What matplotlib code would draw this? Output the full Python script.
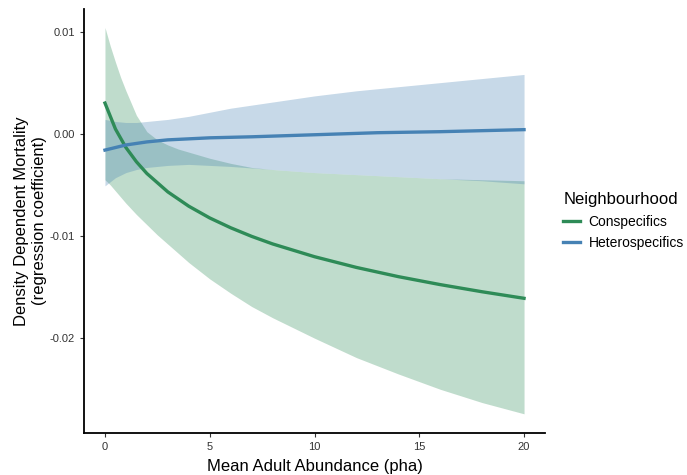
import numpy as np
import matplotlib.pyplot as plt

plt.rcParams['font.family'] = ['Liberation Sans', 'DejaVu Sans']
plt.rcParams['axes.unicode_minus'] = False

# conspecific fit and 95% band
con_x = [0, 0.5, 1, 1.5, 2, 3, 4, 5, 6, 7, 8, 10, 12, 14, 16, 18, 20]
con_y = [0.0030, 0.00046, -0.00135, -0.00274, -0.00389, -0.00569, -0.00709, -0.00824,
         -0.0092, -0.01004, -0.01078, -0.01203, -0.01308, -0.01398, -0.01476, -0.01546, -0.0161]

con_band_x = [0, 0.25, 0.5, 0.75, 1, 1.5, 2, 2.5, 3, 3.5, 4, 5, 6, 7, 8, 10, 12, 14, 16, 18, 20]
con_lo = [-0.0045, -0.0050, -0.0056, -0.0062, -0.0068, -0.0079, -0.0089, -0.0099, -0.0108,
          -0.0117, -0.0126, -0.0142, -0.0156, -0.0169, -0.0180, -0.0200, -0.0219, -0.0235,
          -0.0250, -0.0263, -0.0274]
con_hi = [0.0104, 0.0086, 0.0070, 0.0055, 0.0042, 0.0018, 0.0002, -0.0006, -0.0011,
          -0.0015, -0.0018, -0.0024, -0.0029, -0.0033, -0.0035, -0.0038, -0.0040, -0.0042,
          -0.0044, -0.0045, -0.0046]

# heterospecific fit and band
het_x = [0, 1, 2, 3, 5, 7, 10, 13, 16, 20]
het_y = [-0.0016, -0.0011, -0.0008, -0.0006, -0.0004, -0.0003, -0.0001, 0.0001, 0.0002, 0.0004]

het_band_x = [0, 0.5, 1, 1.5, 2, 3, 4, 5, 6, 8, 10, 12, 14, 16, 18, 20]
het_lo = [-0.0051, -0.0043, -0.0038, -0.0035, -0.0033, -0.0031, -0.0030, -0.0031, -0.0032,
          -0.0035, -0.0038, -0.0040, -0.0042, -0.0044, -0.0046, -0.0049]
het_hi = [0.0014, 0.0012, 0.0011, 0.0011, 0.0012, 0.0014, 0.0017, 0.0021, 0.0025, 0.0031,
          0.0037, 0.0042, 0.0046, 0.0050, 0.0054, 0.0058]

green = '#2E8B57'
blue = '#4682B4'

fig = plt.figure(figsize=(6.87, 4.75), dpi=100)
ax = fig.add_axes([0.1223, 0.089, 0.671, 0.892])

ax.fill_between(con_band_x, con_lo, con_hi, color=green, alpha=0.3, lw=0)
ax.fill_between(het_band_x, het_lo, het_hi, color=blue, alpha=0.3, lw=0)
ax.plot(con_x, con_y, color=green, lw=2.4, label='Conspecifics')
ax.plot(het_x, het_y, color=blue, lw=2.4, label='Heterospecifics')

ax.set_xlim(-1, 21)
ax.set_ylim(-0.02925, 0.0122)
ax.set_xticks([0, 5, 10, 15, 20])
ax.set_yticks([0.01, 0.0, -0.01, -0.02])
ax.set_yticklabels(['0.01', '0.00', '-0.01', '-0.02'])

for s in ['top', 'right']:
    ax.spines[s].set_visible(False)
for s in ['left', 'bottom']:
    ax.spines[s].set_linewidth(1.3)
    ax.spines[s].set_color('black')
ax.tick_params(axis='both', labelsize=8, labelcolor='#333333', length=3, width=0.8,
               color='#333333')

ax.set_xlabel('Mean Adult Abundance (pha)', fontsize=12, labelpad=5)
ax.set_ylabel('Density Dependent Mortality\n(regression coefficient)', fontsize=12,
              labelpad=2, linespacing=1.25)

leg = ax.legend(title='Neighbourhood', loc='center left', bbox_to_anchor=(0.812, 0.535),
                bbox_transform=fig.transFigure, frameon=False, fontsize=10,
                title_fontsize=12, handlelength=1.2, handletextpad=0.6,
                labelspacing=0.5, borderaxespad=0)
leg._legend_box.align = 'left'
leg._legend_box.sep = 6

fig.savefig('out.png', dpi=100)
